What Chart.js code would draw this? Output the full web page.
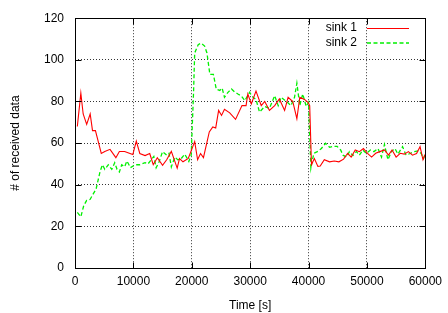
<!DOCTYPE html>
<html>
<head>
<meta charset="utf-8">
<script src="https://cdn.jsdelivr.net/npm/chart.js@4.4.0/dist/chart.umd.min.js"></script>
<style>
  html, body { margin: 0; padding: 0; background: #fff; }
  #wrap { width: 448px; height: 313px; }
</style>
</head>
<body>
<div id="wrap"><canvas id="chart"></canvas></div>
<script>
// values
const sink1Time = [400, 1000, 1400, 2000, 2600, 3000, 3500, 4500, 5100, 6000, 7000, 7600, 8500, 9900,
  10500, 11100, 12000, 12800, 13400, 14100, 15000, 15700, 16500, 17500, 17900, 18500, 19400,
  20500, 21000, 21500, 22000, 23000, 23600, 24100, 24600, 25100, 25600, 26500, 27500, 28600, 29300,
  29600, 30200, 31000, 31900, 32500, 33300, 34200, 35000, 35900, 36500, 37300, 38000, 38500, 39300,
  39900, 40200, 40500, 41000, 41600, 42000, 42700, 43600, 44400, 45200, 46000, 46700, 47300, 48000,
  48700, 49400, 50100, 50800, 51500, 52200, 53000, 53700, 54300, 55000, 55700, 56400, 57100, 57800,
  58500, 59100, 59600, 60000];
const sink1Values = [68, 84, 74, 69, 74, 66, 66, 55, 56, 57, 53, 56, 56, 54.5,
  61, 55, 54, 55, 49.6, 53, 49.3, 52, 56, 48, 52.6, 51, 52.6,
  60.7, 52, 55, 53, 65.4, 67.8, 67.3, 75.7, 73.3, 76.2, 74.5, 71.4, 78, 78,
  83.6, 78.8, 85, 78, 80, 75.7, 78, 81.2, 75.7, 82, 80, 71.7, 82, 81,
  79.6, 78, 49.6, 52.6, 48.8, 49, 52, 51, 51.4, 51, 52.3, 55.1, 53.3, 56.7,
  55.9, 57.4, 55.1, 53.3, 55.1, 55.9, 56.7, 54.2, 56.7, 53.3, 55.1, 54.7, 55.9, 54.2,
  55, 58.3, 52, 54.7];

const sink2Time = [400, 1000, 1500, 2000, 2600, 3100, 3600, 4300, 4700, 5100, 5700, 6300, 6800, 7200,
  7600, 8000, 8500, 8900, 9500, 10300, 11100, 12000, 12500, 13500, 13900, 14400, 15000, 15700,
  16100, 16500, 17100, 17600, 18200, 18800, 19500, 19900, 20300, 20500, 21100, 21600, 22200,
  22600, 23100, 23700, 24200, 24800, 25200, 25600, 26200, 26800, 27300, 27900, 28500, 29100,
  29900, 30500, 31000, 31600, 32500, 33300, 34200, 34800, 35300, 36200, 37000, 37600, 38000,
  38500, 39000, 39600, 40000, 40400, 40900, 41600, 42200, 42900, 43600, 44200, 44900, 45500,
  45900, 46500, 47000, 47600, 48200, 48700, 49300, 49900, 50600, 51200, 51900, 52500, 53000,
  53600, 54200, 54800, 55300, 56100, 56700, 57400, 58100, 58800, 59300, 59700, 60000];
const sink2Values = [26.7, 24.6, 30, 32.5, 33, 35.5, 37.8, 46.4, 49.6, 47.4, 49.6, 47.4, 50.6, 47.4,
  46.1, 49.6, 48.6, 51.4, 48.2, 49.6, 49.6, 50.6, 50, 53.6, 48.2, 51, 55.9, 54.2,
  55.1, 48.6, 53.3, 52, 52.6, 54.7, 51.2, 54.2, 84, 103.3, 107.3, 108, 106.6,
  103.3, 93, 93, 85.9, 85.3, 86.4, 82, 84.4, 86, 84.7, 83.6, 82.6, 80.4,
  84.4, 82, 81, 74.9, 77.6, 76.7, 82.8, 78, 82, 80, 78, 82, 88.8,
  78, 83.6, 77.6, 79.6, 48, 55.1, 56, 57.4, 59.9, 58, 58.5, 58.4, 56.7,
  54.2, 53.3, 55.9, 54, 56, 54.2, 56.7, 55, 56.7, 55.9, 57.4, 53.3, 59.4,
  52, 55.9, 57.4, 54.7, 58.3, 54.2, 55, 55.9, 56.3, 55, 52.6, 55];

const seriesNames = ['sink 1', 'sink 2'];
const seriesColors = ['#ff0000', '#00f000'];
const xTicks = [0, 10000, 20000, 30000, 40000, 50000, 60000];
const yTicks = [0, 20, 40, 60, 80, 100, 120];

const FONT = 'Liberation Sans, Arial, Helvetica, sans-serif';

function toPoints(times, values) {
  return times.map((t, i) => ({ x: t, y: values[i] }));
}

// gnuplot-like frame, inward ticks and key
const framePlugin = {
  id: 'frame',
  afterDraw(chart) {
    const { ctx, chartArea: a, scales } = chart;
    const L = Math.round(a.left) + 0.5, R = Math.round(a.right) + 0.5;
    const T = Math.round(a.top) + 0.5, B = Math.round(a.bottom) + 0.5;
    ctx.save();
    ctx.strokeStyle = '#000';
    ctx.lineWidth = 1;
    ctx.setLineDash([]);
    ctx.strokeRect(L, T, R - L, B - T);
    ctx.beginPath();
    xTicks.forEach(v => {
      const px = Math.round(scales.x.getPixelForValue(v)) + 0.5;
      ctx.moveTo(px, B); ctx.lineTo(px, B - 6);
      ctx.moveTo(px, T); ctx.lineTo(px, T + 6);
    });
    yTicks.forEach(v => {
      const py = Math.round(scales.y.getPixelForValue(v)) + 0.5;
      ctx.moveTo(L, py); ctx.lineTo(L + 6, py);
      ctx.moveTo(R, py); ctx.lineTo(R - 6, py);
    });
    ctx.stroke();

    // key
    ctx.font = '12px ' + FONT;
    ctx.textAlign = 'right';
    ctx.textBaseline = 'middle';
    chart.data.datasets.forEach((ds, i) => {
      const ky = 28 + i * 14.5;
      ctx.fillStyle = '#000';
      ctx.fillText(ds.label, 357, ky);
      ctx.strokeStyle = ds.borderColor;
      ctx.lineWidth = ds.borderWidth;
      ctx.setLineDash(ds.borderDash || []);
      ctx.beginPath();
      ctx.moveTo(367, ky + 0.5);
      ctx.lineTo(409, ky + 0.5);
      ctx.stroke();
    });
    ctx.restore();
  }
};

const gridColor = (first, last) => c =>
  (c.tick.value === first || c.tick.value === last) ? 'rgba(0,0,0,0)' : 'rgba(0,0,0,0.8)';

new Chart(document.getElementById('chart'), {
  type: 'line',
  data: {
    datasets: [
      {
        label: seriesNames[0],
        data: toPoints(sink1Time, sink1Values),
        borderColor: seriesColors[0],
        borderWidth: 1.1,
        pointRadius: 0,
        tension: 0
      },
      {
        label: seriesNames[1],
        data: toPoints(sink2Time, sink2Values),
        borderColor: seriesColors[1],
        borderWidth: 1.3,
        borderDash: [4, 2.5],
        pointRadius: 0,
        tension: 0
      }
    ]
  },
  options: {
    responsive: true,
    maintainAspectRatio: false,
    animation: false,
    layout: { padding: { top: 15, right: 22, left: 0, bottom: 0 } },
    plugins: {
      legend: { display: false },
      tooltip: { enabled: false }
    },
    scales: {
      x: {
        type: 'linear',
        min: 0,
        max: 60000,
        afterBuildTicks: s => { s.ticks = xTicks.map(v => ({ value: v })); },
        afterFit: s => { s.height = 45; },
        ticks: { color: '#000', font: { size: 12, family: FONT }, padding: 6, maxRotation: 0,
          callback: v => String(v) },
        grid: { color: gridColor(0, 60000), drawTicks: false, lineWidth: 1 },
        border: { display: false, dash: [1, 2] },
        title: { display: true, text: 'Time [s]', color: '#000', font: { size: 12, family: FONT },
          padding: { top: 4, bottom: 0 } }
      },
      y: {
        min: 0,
        max: 120,
        afterBuildTicks: s => { s.ticks = yTicks.map(v => ({ value: v })); },
        afterFit: s => { s.width = 75; },
        ticks: { color: '#000', font: { size: 12, family: FONT }, padding: 11 },
        grid: { color: gridColor(0, 120), drawTicks: false, lineWidth: 1 },
        border: { display: false, dash: [1, 2] },
        title: { display: true, text: '# of received data', color: '#000', font: { size: 12, family: FONT },
          padding: { top: 8, bottom: 0 } }
      }
    }
  },
  plugins: [framePlugin]
});
</script>
</body>
</html>
